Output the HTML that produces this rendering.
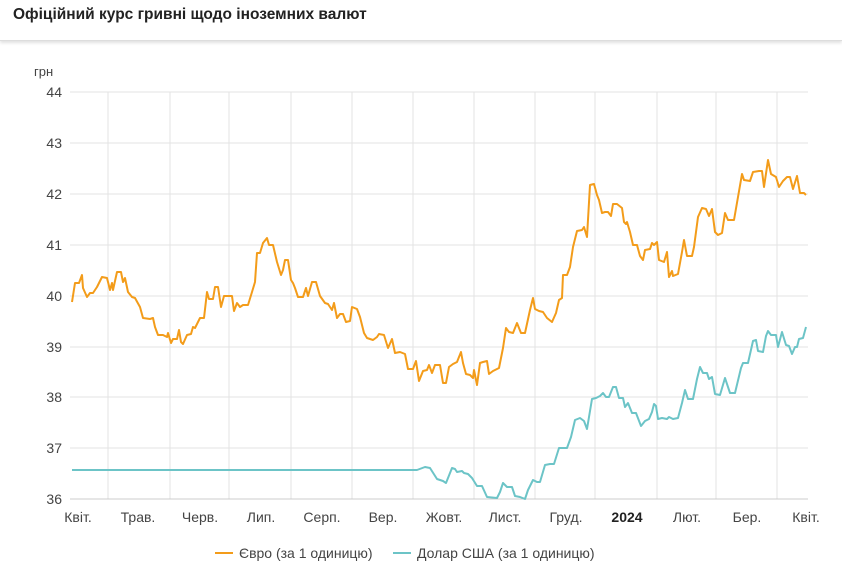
<!DOCTYPE html>
<html><head><meta charset="utf-8"><style>
body{margin:0;width:842px;height:565px;background:#fff;overflow:hidden;font-family:"Liberation Sans",sans-serif;}
.hdr{position:absolute;left:0;top:0;width:842px;height:40px;border-bottom:1px solid #ddd;box-shadow:0 2px 3px rgba(0,0,0,0.12);}
.title{position:absolute;left:13px;top:6px;font-size:15.5px;font-weight:bold;color:#222;}
svg{position:absolute;left:0;top:0;}
</style></head><body>
<div class="hdr"><div class="title">Офіційний курс гривні щодо іноземних валют</div></div>
<svg width="842" height="565" font-family="Liberation Sans, sans-serif">
<g stroke="#e3e3e3" stroke-width="1">
<line x1="70" x2="808" y1="92" y2="92"/><line x1="70" x2="808" y1="143" y2="143"/><line x1="70" x2="808" y1="194" y2="194"/><line x1="70" x2="808" y1="245" y2="245"/><line x1="70" x2="808" y1="296" y2="296"/><line x1="70" x2="808" y1="347" y2="347"/><line x1="70" x2="808" y1="397" y2="397"/><line x1="70" x2="808" y1="448" y2="448"/>
<line x1="108" x2="108" y1="92" y2="499"/><line x1="170" x2="170" y1="92" y2="499"/><line x1="229" x2="229" y1="92" y2="499"/><line x1="291" x2="291" y1="92" y2="499"/><line x1="352" x2="352" y1="92" y2="499"/><line x1="413" x2="413" y1="92" y2="499"/><line x1="474" x2="474" y1="92" y2="499"/><line x1="535" x2="535" y1="92" y2="499"/><line x1="595" x2="595" y1="92" y2="499"/><line x1="657" x2="657" y1="92" y2="499"/><line x1="716" x2="716" y1="92" y2="499"/><line x1="777" x2="777" y1="92" y2="499"/>
</g>
<line x1="70" x2="808" y1="499" y2="499" stroke="#ccc"/>
<g font-size="14" fill="#444" text-anchor="end">
<text x="62" y="97">44</text><text x="62" y="148">43</text><text x="62" y="199">42</text><text x="62" y="250">41</text><text x="62" y="301">40</text><text x="62" y="352">39</text><text x="62" y="402">38</text><text x="62" y="453">37</text><text x="62" y="504">36</text>
</g>
<text x="34" y="76" font-size="13" fill="#444">грн</text>
<g font-size="14" fill="#444" text-anchor="middle">
<text x="78" y="522">Квіт.</text><text x="138" y="522">Трав.</text><text x="200" y="522">Черв.</text><text x="261" y="522">Лип.</text><text x="322" y="522">Серп.</text><text x="383" y="522">Вер.</text><text x="444" y="522">Жовт.</text><text x="505" y="522">Лист.</text><text x="566" y="522">Груд.</text><text x="627" y="522" font-weight="bold" fill="#222">2024</text><text x="687" y="522">Лют.</text><text x="747" y="522">Бер.</text><text x="806" y="522">Квіт.</text>
</g>
<polyline fill="none" stroke="#f39c1a" stroke-width="2" stroke-linejoin="round" points="72,302 75,283 79,283 82,275 83,288 87,297 90,293 93,293 97,287 102,277 107,278 110,290 112,283 113,290 117,272 121,272 123,282 125,278 128,292 132,297 135,298 140,307 143,318 150,319 153,318 155,327 158,335 163,335 167,337 168,333 171,343 173,339 177,339 179,330 181,342 183,344 187,335 191,334 193,327 195,328 200,318 204,318 207,292 209,299 213,299 215,287 218,287 221,307 224,296 232,296 234,311 237,303 240,307 243,305 248,305 252,292 255,282 257,253 260,253 263,243 267,238 269,245 273,245 277,262 281,275 283,270 285,260 288,260 291,280 293,283 295,288 298,297 303,297 306,288 308,296 312,282 316,282 320,296 325,303 328,304 332,310 334,303 337,318 340,314 343,314 346,322 350,321 352,307 357,309 360,317 364,333 367,338 373,340 377,337 379,334 384,335 388,348 392,339 395,353 400,352 405,354 408,369 413,369 416,361 419,381 423,371 427,370 429,365 432,373 435,365 440,365 443,383 446,383 449,367 453,364 457,362 461,352 463,363 466,374 470,375 473,378 474,370 477,385 480,363 483,362 487,361 489,374 493,371 499,368 503,348 506,328 509,332 513,333 517,323 521,333 525,333 530,310 533,298 535,309 539,311 543,312 547,318 552,322 556,313 559,300 562,298 563,275 567,275 570,267 573,247 577,231 582,230 584,227 587,237 590,185 594,184 597,195 599,200 602,213 605,212 608,212 611,216 613,204 617,204 622,208 624,222 626,224 627,222 630,232 633,245 637,245 640,256 643,260 645,250 650,249 652,243 654,245 657,242 659,260 664,262 667,252 669,277 672,271 673,276 678,274 682,252 684,240 687,256 692,256 694,247 698,217 702,208 706,209 709,216 712,209 715,232 718,235 722,233 725,213 728,220 734,220 738,197 742,174 744,180 750,181 753,172 759,171 762,171 764,187 768,160 771,174 776,177 779,187 783,181 787,177 790,177 793,189 797,176 800,193 804,193 806,195"/>
<polyline fill="none" stroke="#6cc4c7" stroke-width="2" stroke-linejoin="round" points="72,470 417,470 425,467 430,468 437,479 443,481 446,483 452,468 455,469 457,472 462,471 464,473 468,474 472,478 477,486 482,486 487,497 497,498 500,492 503,483 507,487 512,487 515,496 520,497 525,499 528,490 533,480 537,482 540,482 545,465 550,464 554,464 559,448 562,448 567,448 571,437 575,420 580,418 584,421 587,429 592,399 596,398 600,396 603,393 606,397 609,397 613,387 616,387 619,398 623,398 625,407 628,403 632,413 636,413 641,426 645,421 649,419 652,412 654,404 656,406 658,419 662,418 667,419 669,417 673,419 678,418 682,403 685,390 688,399 693,399 697,379 700,367 703,373 707,373 709,379 712,377 715,394 720,395 725,378 730,393 735,393 741,368 743,363 748,363 753,341 756,340 758,351 763,352 766,336 768,331 771,335 776,335 778,347 782,332 786,345 789,346 792,354 795,347 797,347 799,339 803,338 806,327"/>
<line x1="215" x2="233" y1="553" y2="553" stroke="#f39c1a" stroke-width="2"/>
<text x="239" y="558" font-size="14" fill="#444">Євро (за 1 одиницю)</text>
<line x1="393" x2="411" y1="553" y2="553" stroke="#6cc4c7" stroke-width="2"/>
<text x="417" y="558" font-size="14" fill="#444">Долар США (за 1 одиницю)</text>
</svg>
</body></html>
